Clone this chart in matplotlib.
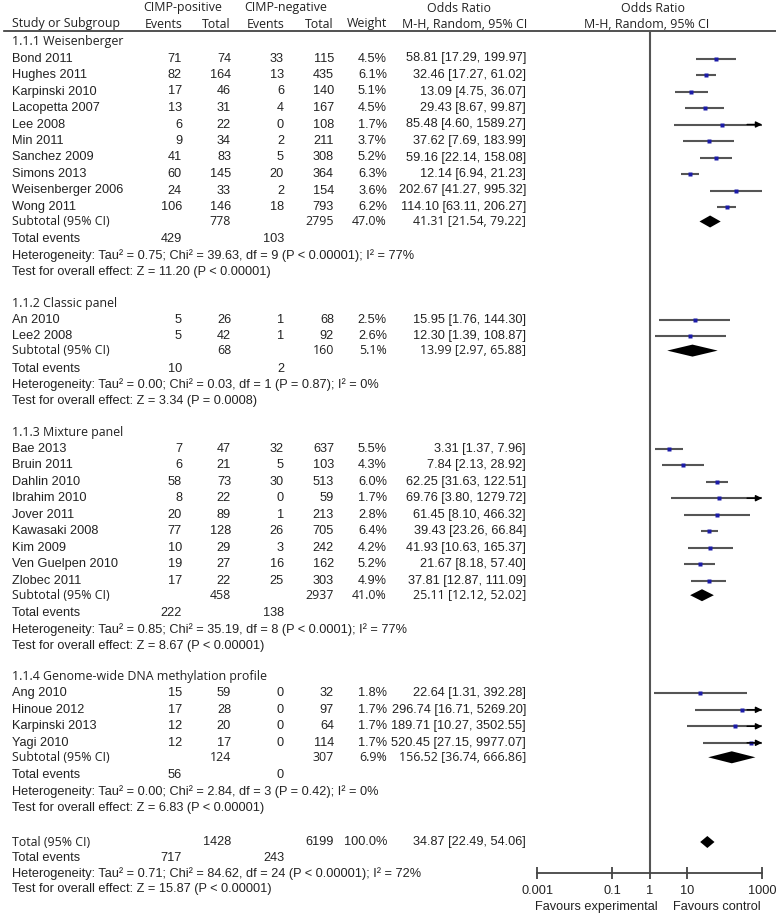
import matplotlib.pyplot as plt

ARIAL = "Liberation Sans"
MYRIAD = "Open Sans"

# ---- data ----
study = ["Bond 2011", "Hughes 2011", "Karpinski 2010", "Lacopetta 2007", "Lee 2008",
         "Min 2011", "Sanchez 2009", "Simons 2013", "Weisenberger 2006", "Wong 2011",
         "An 2010", "Lee2 2008",
         "Bae 2013", "Bruin 2011", "Dahlin 2010", "Ibrahim 2010", "Jover 2011",
         "Kawasaki 2008", "Kim 2009", "Ven Guelpen 2010", "Zlobec 2011",
         "Ang 2010", "Hinoue 2012", "Karpinski 2013", "Yagi 2010"]
group = [0] * 10 + [1] * 2 + [2] * 9 + [3] * 4
ev_pos = [71, 82, 17, 13, 6, 9, 41, 60, 24, 106, 5, 5,
          7, 6, 58, 8, 20, 77, 10, 19, 17, 15, 17, 12, 12]
tot_pos = [74, 164, 46, 31, 22, 34, 83, 145, 33, 146, 26, 42,
           47, 21, 73, 22, 89, 128, 29, 27, 22, 59, 28, 20, 17]
ev_neg = [33, 13, 6, 4, 0, 2, 5, 20, 2, 18, 1, 1,
          32, 5, 30, 0, 1, 26, 3, 16, 25, 0, 0, 0, 0]
tot_neg = [115, 435, 140, 167, 108, 211, 308, 364, 154, 793, 68, 92,
           637, 103, 513, 59, 213, 705, 242, 162, 303, 32, 97, 64, 114]
weight = [4.5, 6.1, 5.1, 4.5, 1.7, 3.7, 5.2, 6.3, 3.6, 6.2, 2.5, 2.6,
          5.5, 4.3, 6.0, 1.7, 2.8, 6.4, 4.2, 5.2, 4.9, 1.8, 1.7, 1.7, 1.7]
odds = [58.81, 32.46, 13.09, 29.43, 85.48, 37.62, 59.16, 12.14, 202.67, 114.10,
        15.95, 12.30,
        3.31, 7.84, 62.25, 69.76, 61.45, 39.43, 41.93, 21.67, 37.81,
        22.64, 296.74, 189.71, 520.45]
ci_lo = [17.29, 17.27, 4.75, 8.67, 4.60, 7.69, 22.14, 6.94, 41.27, 63.11,
         1.76, 1.39,
         1.37, 2.13, 31.63, 3.80, 8.10, 23.26, 10.63, 8.18, 12.87,
         1.31, 16.71, 10.27, 27.15]
ci_hi = [199.97, 61.02, 36.07, 99.87, 1589.27, 183.99, 158.08, 21.23, 995.32, 206.27,
         144.30, 108.87,
         7.96, 28.92, 122.51, 1279.72, 466.32, 66.84, 165.37, 57.40, 111.09,
         392.28, 5269.20, 3502.55, 9977.07]

group_names = ["1.1.1 Weisenberger", "1.1.2 Classic panel", "1.1.3 Mixture panel",
               "1.1.4 Genome-wide DNA methylation profile"]
sub_tot_pos = [778, 68, 458, 124]
sub_tot_neg = [2795, 160, 2937, 307]
sub_weight = [47.0, 5.1, 41.0, 6.9]
sub_ev_pos = [429, 10, 222, 56]
sub_ev_neg = [103, 2, 138, 0]
sub_odds = [41.31, 13.99, 25.11, 156.52]
sub_lo = [21.54, 2.97, 12.12, 36.74]
sub_hi = [79.22, 65.88, 52.02, 666.86]
sub_het = ["Heterogeneity: Tau² = 0.75; Chi² = 39.63, df = 9 (P < 0.00001); I² = 77%",
           "Heterogeneity: Tau² = 0.00; Chi² = 0.03, df = 1 (P = 0.87); I² = 0%",
           "Heterogeneity: Tau² = 0.85; Chi² = 35.19, df = 8 (P < 0.0001); I² = 77%",
           "Heterogeneity: Tau² = 0.00; Chi² = 2.84, df = 3 (P = 0.42); I² = 0%"]
sub_test = ["Test for overall effect: Z = 11.20 (P < 0.00001)",
            "Test for overall effect: Z = 3.34 (P = 0.0008)",
            "Test for overall effect: Z = 8.67 (P < 0.00001)",
            "Test for overall effect: Z = 6.83 (P < 0.00001)"]

total_n = [1428, 6199]
total_events = [717, 243]
total_or = [34.87, 22.49, 54.06]
total_het = "Heterogeneity: Tau² = 0.71; Chi² = 84.62, df = 24 (P < 0.00001); I² = 72%"
total_test = "Test for overall effect: Z = 15.87 (P < 0.00001)"

axis_ticks = [0.001, 0.1, 1, 10, 1000]

# ---- figure ----
W, H = 776, 915
fig = plt.figure(figsize=(W / 100, H / 100), dpi=100)
tx = fig.add_axes([0, 0, 1, 1])
tx.set_xlim(0, W)
tx.set_ylim(H, 0)
tx.axis('off')

y_top, y_axis = 31, 873
fx = fig.add_axes([537 / W, 1 - y_axis / H, 225 / W, (y_axis - y_top) / H])
fx.set_xscale('log')
fx.set_xlim(0.001, 1000)
fx.set_ylim(y_axis, y_top)
fx.patch.set_alpha(0)
for s in ['top', 'right', 'left']:
    fx.spines[s].set_visible(False)
fx.spines['bottom'].set_color('#444')
fx.spines['bottom'].set_linewidth(1.3)
fx.set_xticks(axis_ticks)
fx.set_xticklabels([f"{t:g}" for t in axis_ticks])
fx.minorticks_off()
fx.set_yticks([])
fx.tick_params(axis='x', direction='inout', length=9, width=1.3, colors='#444',
               labelcolor='#222', labelsize=9.2, pad=4)
for lab in fx.get_xticklabels():
    lab.set_fontfamily(ARIAL)
fx.axvline(1, color='#555', lw=1.5)

FS = 9.2
DARK = '#222'
COLS = [182, 231, 284, 334, 387]
OR_X = 526


def t(x, y, s, ha='left', fam=ARIAL, size=FS, **kw):
    tx.text(x, y, s, ha=ha, va='center', fontsize=size, family=fam, color=DARK, **kw)


def diamond(y, est, lo, hi, h=6):
    fx.fill([lo, est, hi, est], [y, y - h, y, y + h], color='black', lw=0, clip_on=False)


# header
MS = 8.9
t(143, 8, "CIMP-positive", fam=MYRIAD, size=MS)
t(244, 8, "CIMP-negative", fam=MYRIAD, size=MS)
t(12, 24, "Study or Subgroup", fam=MYRIAD, size=MS)
for x, s in zip(COLS, ["Events", "Total", "Events", "Total", "Weight"]):
    t(x, 24, s, ha='right', fam=MYRIAD, size=MS)
t(459, 8, "Odds Ratio", ha='center', fam=MYRIAD, size=MS)
t(465, 24, "M-H, Random, 95% CI", ha='center', fam=MYRIAD, size=MS)
t(653, 8, "Odds Ratio", ha='center', fam=MYRIAD, size=MS)
t(647, 24, "M-H, Random, 95% CI", ha='center', fam=MYRIAD, size=MS)
tx.plot([4, W], [31, 31], color='#333', lw=1.2)

step = 16.5
y = 42
for g, gname in enumerate(group_names):
    t(12, y, gname, fam=MYRIAD, size=MS)
    y += 16.5
    for i in [k for k in range(len(study)) if group[k] == g]:
        t(12, y, study[i])
        for x, v in zip(COLS[:4], [ev_pos[i], tot_pos[i], ev_neg[i], tot_neg[i]]):
            t(x, y, str(v), ha='right')
        t(COLS[4], y, f"{weight[i]:.1f}%", ha='right')
        t(OR_X, y, f"{odds[i]:.2f} [{ci_lo[i]:.2f}, {ci_hi[i]:.2f}]", ha='right')
        fx.plot([ci_lo[i], min(ci_hi[i], 1000)], [y, y], color='#555', lw=1.5,
                solid_capstyle='butt', clip_on=False)
        if ci_hi[i] > 1000:
            fx.annotate('', xy=(1000, y), xytext=(400, y),
                        arrowprops=dict(arrowstyle='-|>', color='black', lw=1.0,
                                        mutation_scale=9, shrinkA=0, shrinkB=0),
                        annotation_clip=False)
        fx.plot(odds[i], y, 's', ms=2.4, color='#1c1ca8', mec='none', clip_on=False)
        y += step
    y -= step - 14.5
    t(12, y, "Subtotal (95% CI)", fam=MYRIAD, size=MS)
    t(COLS[1], y, str(sub_tot_pos[g]), ha='right', fam=MYRIAD, size=MS)
    t(COLS[3], y, str(sub_tot_neg[g]), ha='right', fam=MYRIAD, size=MS)
    t(COLS[4], y, f"{sub_weight[g]:.1f}%", ha='right', fam=MYRIAD, size=MS)
    t(OR_X, y, f"{sub_odds[g]:.2f} [{sub_lo[g]:.2f}, {sub_hi[g]:.2f}]", ha='right',
      fam=MYRIAD, size=MS)
    diamond(y, sub_odds[g], sub_lo[g], sub_hi[g])
    y += 18
    t(12, y, "Total events")
    t(COLS[0], y, str(sub_ev_pos[g]), ha='right')
    t(COLS[2], y, str(sub_ev_neg[g]), ha='right')
    y += 16.3
    t(12, y, sub_het[g])
    y += 16.3
    t(12, y, sub_test[g])
    y += 31

y = 842
t(12, y, "Total (95% CI)", fam=MYRIAD, size=MS)
t(COLS[1], y, str(total_n[0]), ha='right')
t(COLS[3], y, str(total_n[1]), ha='right')
t(COLS[4], y, "100.0%", ha='right')
t(OR_X, y, f"{total_or[0]:.2f} [{total_or[1]:.2f}, {total_or[2]:.2f}]", ha='right')
diamond(y, *total_or)
y += 16
t(12, y, "Total events")
t(COLS[0], y, str(total_events[0]), ha='right')
t(COLS[2], y, str(total_events[1]), ha='right')
y += 15.5
t(12, y, total_het)
y += 15.5
t(12, y, total_test)

t(658, 907, "Favours experimental", ha='right')
t(673, 907, "Favours control")

fig.savefig("out.png", dpi=100)
